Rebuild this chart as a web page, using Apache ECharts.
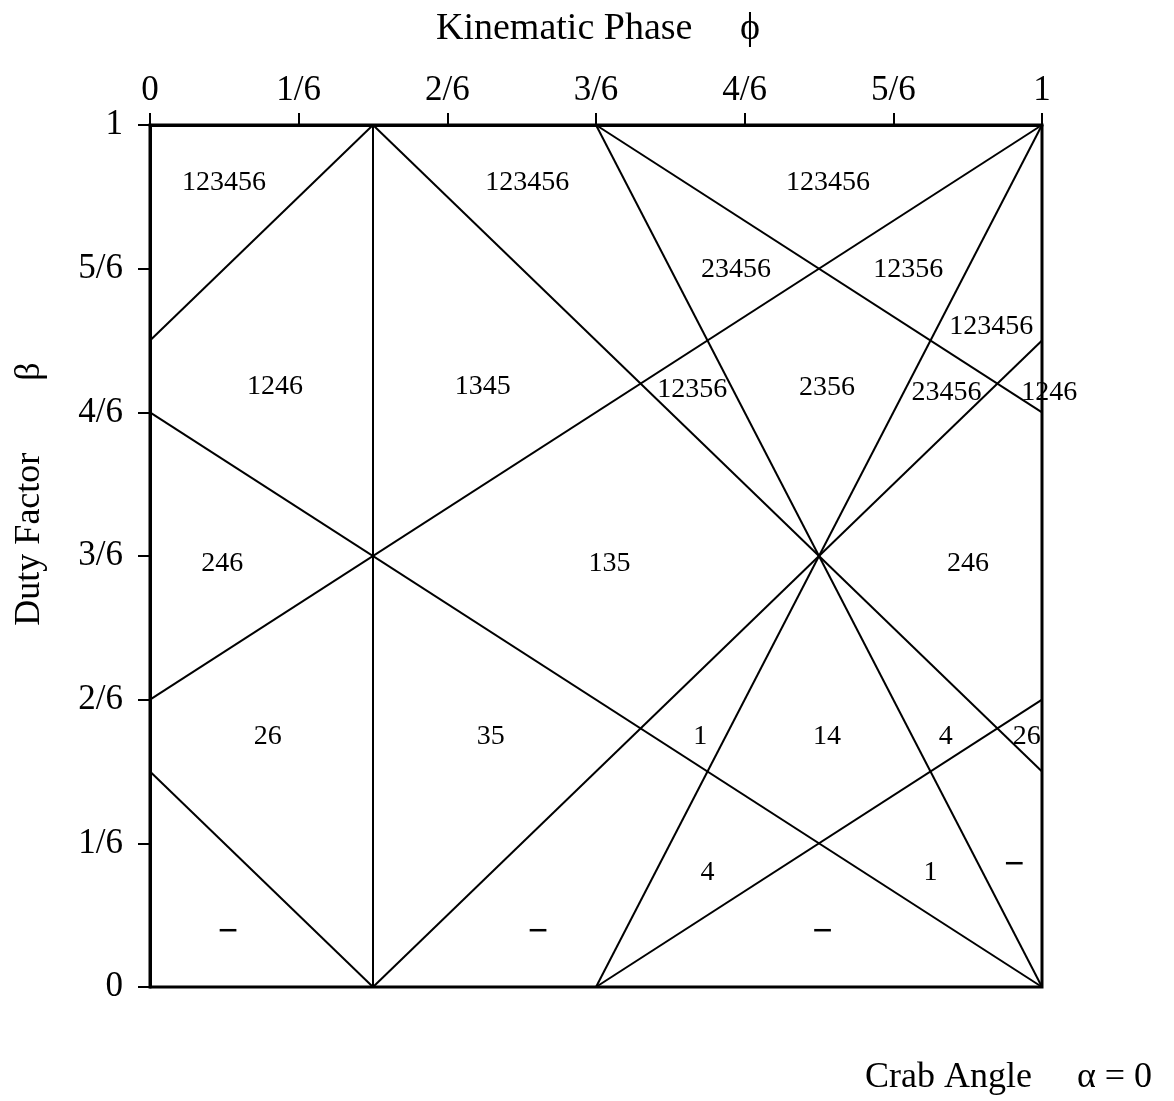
<!DOCTYPE html>
<html>
<head>
<meta charset="utf-8">
<script src="https://cdn.jsdelivr.net/npm/echarts@6/dist/echarts.min.js"></script>
<style>
  html, body { margin: 0; padding: 0; background: #fff; }
  #chart { width: 1174px; height: 1101px; }
</style>
</head>
<body>
<div id="chart"></div>
<script>
// Axis ticks (both axes run 0..1 in sixths)
const tickValues = [0, 1/6, 2/6, 3/6, 4/6, 5/6, 1];
const tickLabels = ['0', '1/6', '2/6', '3/6', '4/6', '5/6', '1'];

// Region boundaries as [phase, duty factor] endpoint pairs
const boundaryLines = [
  [[0, 3/4], [1/4, 1]],
  [[0, 2/3], [1, 0]],
  [[0, 1/3], [1, 1]],
  [[0, 1/4], [1/4, 0]],
  [[1/4, 0], [1/4, 1]],
  [[1/4, 1], [1, 1/4]],
  [[1/4, 0], [1, 3/4]],
  [[1/2, 1], [1, 0]],
  [[1/2, 0], [1, 1]],
  [[1/2, 1], [1, 2/3]],
  [[1/2, 0], [1, 1/3]]
];

// Region labels: which legs can be lifted ('−' = none)
const NONE = '\u2212';
const regionNames = [
  '123456', '123456', '123456',
  '23456', '12356', '123456',
  '1246', '1345', '12356', '2356', '23456', '1246',
  '246', '135', '246',
  '26', '35', '1', '14', '4', '26',
  '4', '1', NONE,
  NONE, NONE, NONE
];
const regionPhase = [
  0.083, 0.423, 0.760,
  0.657, 0.850, 0.943,
  0.140, 0.373, 0.608, 0.759, 0.893, 1.008,
  0.081, 0.515, 0.917,
  0.132, 0.382, 0.617, 0.759, 0.892, 0.983,
  0.625, 0.875, 0.969,
  0.0875, 0.435, 0.754
];
const regionDuty = [
  0.933, 0.933, 0.933,
  0.832, 0.832, 0.766,
  0.696, 0.696, 0.693, 0.695, 0.689, 0.689,
  0.491, 0.491, 0.491,
  0.291, 0.291, 0.291, 0.291, 0.291, 0.291,
  0.133, 0.133, 0.141,
  0.063, 0.063, 0.063
];

const serif = '"Liberation Serif", "Times New Roman", serif';

const chart = echarts.init(document.getElementById('chart'), null, { renderer: 'canvas' });

const tickFmt = v => tickLabels[Math.round(v * 6)];

chart.setOption({
  backgroundColor: '#fff',
  animation: false,
  grid: {
    left: 150, right: 132, top: 125, bottom: 114,
    show: true, borderColor: '#000', borderWidth: 3
  },
  xAxis: {
    type: 'value', position: 'top', min: 0, max: 1,
    axisLine: { show: true, onZero: false, lineStyle: { color: '#000', width: 3 } },
    axisTick: { show: true, length: 12, lineStyle: { color: '#000', width: 2 }, customValues: tickValues },
    axisLabel: { color: '#000', fontFamily: serif, fontSize: 35, margin: 17, customValues: tickValues, formatter: tickFmt },
    splitLine: { show: false }
  },
  yAxis: {
    type: 'value', position: 'left', min: 0, max: 1,
    axisLine: { show: true, onZero: false, lineStyle: { color: '#000', width: 3 } },
    axisTick: { show: true, length: 12, lineStyle: { color: '#000', width: 2 }, customValues: tickValues },
    axisLabel: { color: '#000', fontFamily: serif, fontSize: 35, margin: 27, customValues: tickValues, formatter: tickFmt },
    splitLine: { show: false }
  },
  series: [
    {
      type: 'lines',
      coordinateSystem: 'cartesian2d',
      polyline: false,
      silent: true,
      lineStyle: { color: '#000', width: 2, opacity: 1 },
      data: boundaryLines.map(seg => ({ coords: seg }))
    },
    {
      type: 'scatter',
      symbolSize: 0,
      clip: false,
      itemStyle: { color: '#000' },
      silent: true,
      z: 5,
      label: {
        show: true, position: 'inside', color: '#000',
        textBorderWidth: 0, opacity: 1,
        fontFamily: serif, fontSize: 28,
        formatter: p => p.value[2] === NONE ? '{d|' + NONE + '}' : p.value[2],
        rich: { d: { fontFamily: serif, fontSize: 36, fontWeight: 'bold', color: '#000' } }
      },
      data: regionNames.map((n, i) => [regionPhase[i], regionDuty[i], n])
    }
  ],
  graphic: [
    {
      type: 'text', left: 436, top: 10,
      style: { text: 'Kinematic Phase     \u03d5', font: '38px ' + serif, fill: '#000' }
    },
    {
      type: 'text', x: 30, y: 494, rotation: Math.PI / 2,
      style: { text: 'Duty Factor        \u03b2', font: '36px ' + serif, fill: '#000', align: 'center', verticalAlign: 'middle' }
    },
    {
      type: 'text', left: 865, top: 1060,
      style: { text: 'Crab Angle     \u03b1 = 0', font: '36px ' + serif, fill: '#000' }
    }
  ]
});
</script>
</body>
</html>
